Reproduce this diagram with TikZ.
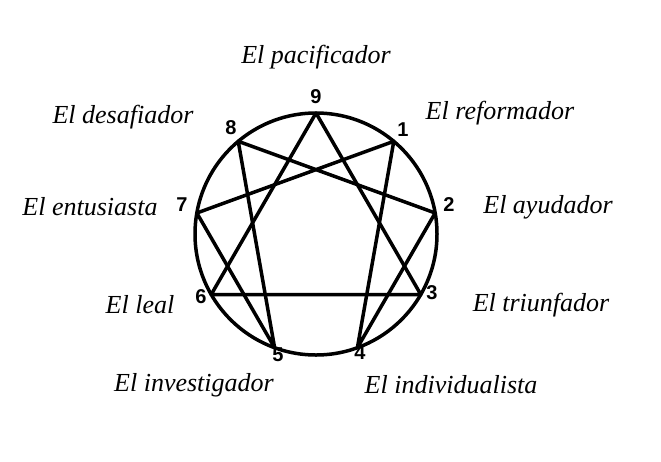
\documentclass[tikz,border=0pt]{standalone}
\usepackage{fontspec}
\usetikzlibrary{calc}
\setmainfont{Liberation Serif}
\newfontfamily\numfont{Liberation Sans}
\begin{document}
\begin{tikzpicture}[x=1pt,y=-1pt,
  lab/.style={font=\fontsize{26}{28}\selectfont\itshape},
  num/.style={font=\fontsize{20}{22}\selectfont\numfont\bfseries},
  edge/.style={line width=3.5pt,line join=round}]
\useasboundingbox (0,0) rectangle (661,461);
\coordinate (c) at (316,234);
\foreach \k in {0,...,9}{
  \coordinate (p\k) at ($(c)+({121*sin(40*\k)},{-121*cos(40*\k)})$);
}
\draw[edge] (c) circle (121);
\draw[edge] (p9) -- (p3) -- (p6) -- cycle;
\draw[edge] (p1) -- (p4) -- (p2) -- (p8) -- (p5) -- (p7) -- cycle;
\node[num] (n9) at (316,97) {9};
\node[num] (n1) at (403,130) {1};
\node[num] (n8) at (231,128) {8};
\node[num] (n7) at (182,205) {7};
\node[num] (n2) at (449,205) {2};
\node[num] (n6) at (201,297) {6};
\node[num] (n3) at (432,293) {3};
\node[num] (n5) at (278,355) {5};
\node[num] (n4) at (360,353) {4};
\node[lab] (l9) at (316,57) {El pacificador};
\node[lab] (l1) at (500,113) {El reformador};
\node[lab] (l8) at (123,117) {El desafiador};
\node[lab] (l7) at (90,207) {El entusiasta};
\node[lab] (l2) at (548,207) {El ayudador};
\node[lab] (l6) at (140,305) {El leal};
\node[lab] (l3) at (541,305) {El triunfador};
\node[lab] (l5) at (194,385) {El investigador};
\node[lab] (l4) at (451,385) {El individualista};
\end{tikzpicture}
\end{document}
